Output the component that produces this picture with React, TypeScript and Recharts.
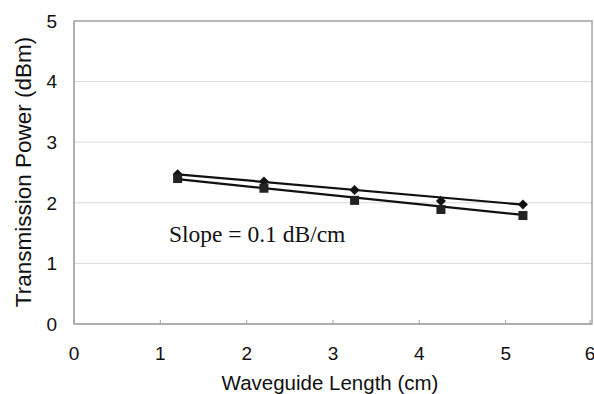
import React from "react"
import {
  ComposedChart,
  Scatter,
  Line,
  XAxis,
  YAxis,
  CartesianGrid,
  ReferenceArea,
  ReferenceDot,
} from "recharts"

// waveguide lengths (cm)
const lengths = [1.2, 2.2, 3.25, 4.25, 5.2]
// measured transmission power (dBm)
const powerDiamond = [2.47, 2.35, 2.21, 2.03, 1.97]
const powerSquare = [2.4, 2.24, 2.04, 1.89, 1.79]
// trend line end points
const trendX = [1.2, 5.2]
const trendDiamond = [2.47, 1.97]
const trendSquare = [2.39, 1.8]

const xTicks = [0, 1, 2, 3, 4, 5, 6]
const yTicks = [0, 1, 2, 3, 4, 5]

const diamondData = lengths.map((x, i) => ({ x, y: powerDiamond[i] }))
const squareData = lengths.map((x, i) => ({ x, y: powerSquare[i] }))
const trendA = trendX.map((x, i) => ({ x, y: trendDiamond[i] }))
const trendB = trendX.map((x, i) => ({ x, y: trendSquare[i] }))

const AXIS = "#a6a6a6"
const GRID = "#d9d9d9"
const INK = "#111"
const SANS = "'Liberation Sans', Arial, sans-serif"

const Diamond = (props: any) => {
  const { cx, cy } = props
  const r = 5
  return (
    <polygon
      points={`${cx},${cy - r} ${cx + r},${cy} ${cx},${cy + r} ${cx - r},${cy}`}
      fill={INK}
    />
  )
}

const Square = (props: any) => {
  const { cx, cy } = props
  const s = 9
  return <rect x={cx - s / 2} y={cy - s / 2} width={s} height={s} fill="#222" />
}

const XTick = (props: any) => {
  const { x, y, payload } = props
  const axisY = y - 23
  return (
    <g>
      <line x1={x} x2={x} y1={axisY} y2={axisY - 4} stroke={AXIS} />
      <text x={x} y={y} dy="0.71em" textAnchor="middle" fontSize={19} fontFamily={SANS} fill={INK}>
        {payload.value}
      </text>
    </g>
  )
}

export default function App() {
  return (
    <div style={{ position: "absolute", left: 0, top: 0, width: 594, height: 394, background: "#fff" }}>
      <ComposedChart width={594} height={394} margin={{ top: 21, right: 2, bottom: 0, left: 0 }}>
        <CartesianGrid vertical={false} stroke={GRID} />
        <XAxis
          type="number"
          dataKey="x"
          domain={[0, 6]}
          ticks={xTicks}
          height={70}
          tickLine={false}
          tickSize={0}
          tickMargin={23}
          axisLine={{ stroke: AXIS }}
          tick={<XTick />}
          label={{
            content: () => (
              <text x={330} y={390} textAnchor="middle" fontSize={20.5} fontFamily={SANS} fill={INK}>
                Waveguide Length (cm)
              </text>
            ),
          }}
        />
        <YAxis
          type="number"
          dataKey="y"
          domain={[0, 5]}
          ticks={yTicks}
          width={74}
          tickLine={false}
          tickSize={0}
          tickMargin={17}
          axisLine={{ stroke: AXIS }}
          tick={{ fontSize: 19, fontFamily: SANS, fill: INK }}
          label={{
            content: () => (
              <text
                x={23}
                y={172}
                transform="rotate(-90 23 172)"
                textAnchor="middle"
                dominantBaseline="central"
                fontSize={22.5}
                fontFamily={SANS}
                fill={INK}
              >
                Transmission Power (dBm)
              </text>
            ),
          }}
        />
        <ReferenceArea x1={0} x2={6} y1={0} y2={5} fill="none" stroke={AXIS} strokeWidth={1.5} ifOverflow="visible" />
        <Line data={trendA} dataKey="y" stroke={INK} strokeWidth={2.2} dot={false} isAnimationActive={false} />
        <Line data={trendB} dataKey="y" stroke={INK} strokeWidth={2.2} dot={false} isAnimationActive={false} />
        <Scatter data={diamondData} dataKey="y" shape={<Diamond />} isAnimationActive={false} />
        <Scatter data={squareData} dataKey="y" shape={<Square />} isAnimationActive={false} />
        <ReferenceDot
          x={1.1}
          y={1.35}
          r={0}
          label={{
            content: (p: any) => (
              <text x={p.viewBox.cx ?? p.viewBox.x} y={p.viewBox.cy ?? p.viewBox.y} fontSize={23.5} fontFamily="'Liberation Serif', 'Times New Roman', serif" fill={INK}>
                Slope = 0.1 dB/cm
              </text>
            ),
          }}
        />
      </ComposedChart>
    </div>
  )
}
